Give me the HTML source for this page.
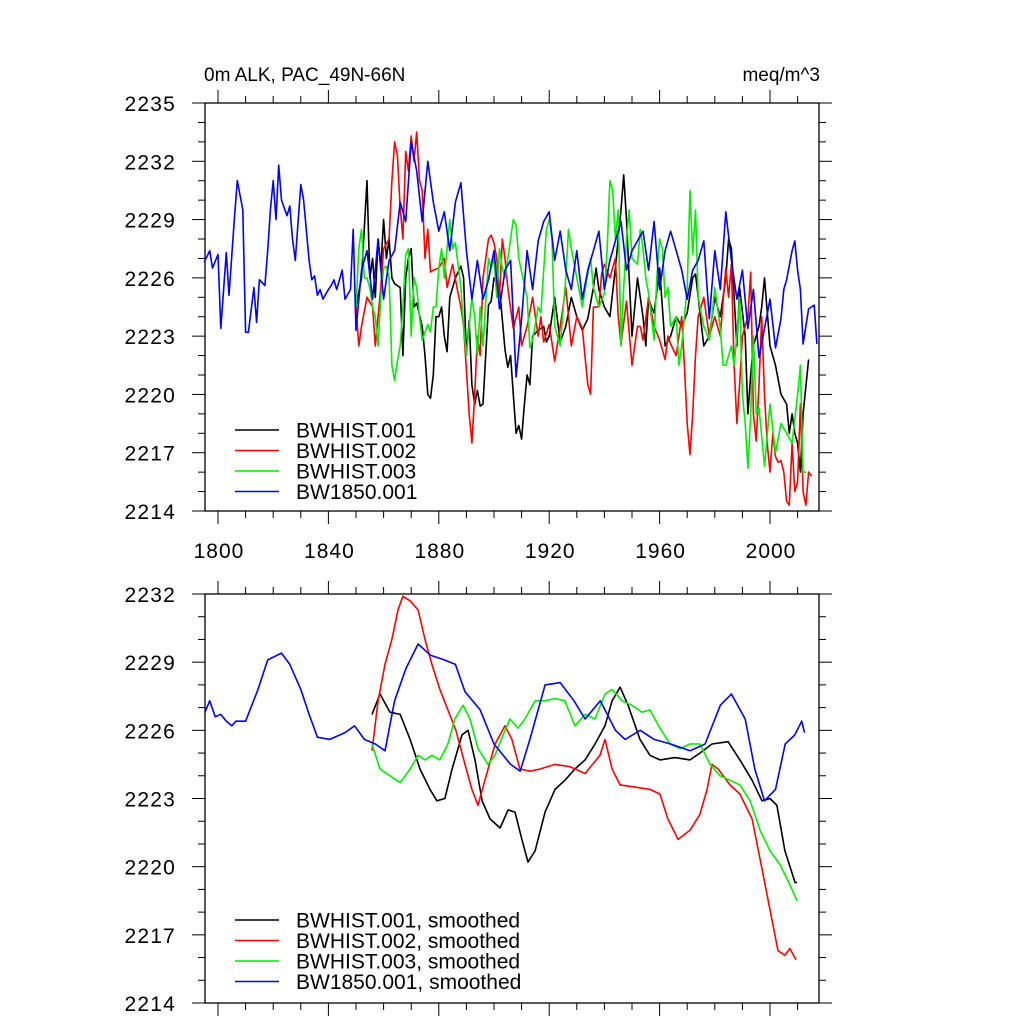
<!DOCTYPE html>
<html><head><meta charset="utf-8"><style>
html,body{margin:0;padding:0;background:#fff}
svg{display:block;font-family:"Liberation Sans",sans-serif}
</style></head><body>
<svg id="chart" width="1024" height="1024" viewBox="0 0 1024 1024" xmlns="http://www.w3.org/2000/svg">
<text x="204" y="81" font-size="19">0m ALK, PAC_49N-66N</text>
<text x="820" y="81" font-size="19" text-anchor="end">meq/m^3</text>
<g id="top"></g>
<g id="bot"></g>
</svg>
<script>
// ---- data ----
const b1Years=[1850,1852,1854,1855,1856,1857,1858,1859,1860,1861,1862,1863,1864,1866,1867,1868,1869,1870,1871,1872,1874,1875,1876,1877,1878,1879,1880,1881,1882,1883,1884,1886,1888,1889,1890,1891,1892,1893,1894,1895,1896,1897,1898,1899,1900,1902,1904,1905,1906,1907,1908,1909,1910,1911,1912,1913,1914,1916,1918,1919,1920,1922,1924,1926,1928,1930,1932,1934,1936,1937,1938,1940,1942,1944,1945,1946,1947,1948,1949,1950,1952,1954,1955,1956,1957,1958,1960,1962,1964,1966,1968,1970,1972,1973,1974,1976,1978,1980,1982,1984,1985,1986,1988,1989,1991,1992,1993,1994,1996,1997,1998,2000,2002,2004,2006,2007,2008,2009,2010,2011,2012,2014];
const b1Vals=[2224.5,2226,2231,2226,2227,2225,2228,2226.5,2229,2227,2228,2226,2225.7,2225.5,2222,2226,2227,2227.5,2224.5,2224.7,2223.5,2222,2220,2219.8,2221,2224,2224,2224.5,2223,2222.2,2225,2226,2226.6,2226,2222,2223.8,2220.5,2219.5,2220.2,2219.4,2219.5,2222,2224.6,2224.8,2226,2225.5,2222.3,2221.4,2222,2220,2218,2218.4,2217.7,2219.5,2221,2220.5,2223,2223.3,2223.5,2222.7,2223,2225,2222.7,2223.5,2225,2224,2223.3,2223.9,2225.5,2226.5,2225.4,2224.5,2224,2226.5,2228,2229.5,2231.3,2229,2226,2223,2226,2224,2222.5,2225,2224.5,2224.2,2226.5,2222.5,2223,2224,2223.5,2224.2,2226,2226.2,2225,2222.5,2223,2225,2224,2226,2228,2227.5,2222.5,2225.5,2223,2219,2221,2222.5,2223.5,2224.5,2226,2222.5,2221.5,2220,2219.5,2218,2219,2218,2217.5,2216,2219,2221.8];
const r1Years=[1850,1851,1852,1854,1856,1857,1859,1860,1862,1863,1864,1865,1866,1867,1868,1869,1870,1871,1872,1873,1874,1875,1876,1877,1878,1880,1882,1883,1885,1887,1888,1889,1891,1892,1893,1894,1895,1896,1898,1899,1900,1901,1902,1903,1904,1905,1907,1909,1910,1912,1914,1916,1917,1918,1920,1922,1924,1926,1928,1930,1932,1934,1935,1936,1938,1939,1940,1942,1944,1945,1946,1948,1950,1952,1953,1954,1956,1958,1960,1962,1963,1964,1966,1968,1969,1970,1971,1972,1973,1974,1976,1977,1978,1980,1982,1984,1985,1986,1987,1988,1989,1990,1992,1993,1994,1995,1996,1997,1998,1999,2000,2001,2002,2003,2004,2005,2006,2007,2008,2009,2010,2011,2012,2013,2014,2015];
const r1Vals=[2224.5,2222.5,2223.5,2225,2224.5,2222.5,2225.5,2227.5,2228,2231,2233,2232.3,2229.6,2228,2232.5,2231.5,2233.3,2232,2233.5,2231,2230.5,2227,2228.5,2226.3,2226.4,2226.5,2227,2225.5,2226.7,2225.2,2224.5,2223.5,2219,2217.5,2220,2223,2222,2226,2228,2228.2,2227.8,2227,2225,2228,2227,2225.5,2223.4,2224.5,2222.5,2223.5,2225,2223,2224,2222.7,2223.6,2221.7,2223.5,2225.5,2222.5,2224,2223.4,2220.5,2220,2224.5,2224.5,2226.2,2226.7,2226,2227,2224,2222.6,2224.8,2221.5,2223.5,2223.5,2222.8,2225,2223.5,2222.8,2221.8,2223,2222.6,2222,2224,2221.5,2218.5,2216.9,2219,2222,2224,2225,2224,2223,2224,2223,2226.5,2225,2226.7,2221.5,2218.5,2220.5,2223,2224,2226.3,2219,2217.6,2220.5,2224,2220,2217.5,2216,2218,2216.8,2216.5,2216.6,2216,2214.5,2214.3,2217.5,2215,2215.5,2219.5,2215,2214.3,2216,2215.8];
const g1Years=[1850,1851,1852,1853,1854,1855,1856,1857,1858,1859,1860,1861,1862,1863,1864,1865,1866,1867,1868,1869,1870,1871,1872,1873,1874,1876,1877,1878,1879,1880,1881,1882,1884,1885,1886,1888,1889,1890,1892,1893,1894,1895,1896,1898,1899,1900,1901,1902,1903,1904,1906,1907,1908,1909,1910,1912,1913,1914,1916,1917,1918,1919,1920,1921,1922,1924,1926,1927,1928,1930,1932,1934,1935,1936,1938,1940,1941,1942,1943,1944,1945,1946,1947,1948,1949,1950,1952,1953,1954,1955,1956,1957,1958,1959,1960,1961,1962,1963,1964,1966,1967,1968,1969,1970,1971,1972,1973,1974,1976,1978,1979,1980,1982,1983,1984,1986,1987,1988,1989,1990,1991,1992,1993,1994,1995,1996,1998,2000,2002,2004,2006,2008,2010,2011,2012,2013];
const g1Vals=[2224.5,2227.5,2228.5,2226,2226,2225.5,2224.5,2224,2222.5,2225,2226.5,2226.6,2226,2221.5,2220.7,2221.7,2222.5,2224.5,2227.2,2227.5,2223,2226,2225.5,2224,2222.8,2223.6,2223.2,2224.5,2224.5,2226.5,2227.5,2226,2229,2227.5,2227.8,2225.5,2223.5,2222,2225,2224,2222,2224.5,2222.5,2227,2226.5,2227,2225,2227.5,2226.5,2226,2228,2229,2228.7,2227,2226.3,2225,2222.4,2222.8,2224.5,2224.2,2226.4,2228.5,2229,2228,2223.5,2222.5,2226,2228.5,2227.5,2226,2224.5,2226.2,2227,2225.5,2224.5,2225.2,2227.5,2231,2230.5,2228,2229.5,2222.5,2225.5,2228,2229.5,2227,2226.7,2228.5,2227.5,2226,2225.2,2224,2222.8,2226,2228,2227.5,2225,2225.5,2223.5,2224,2221.5,2222.5,2224,2225.5,2230.5,2227.2,2229.5,2225,2223.5,2222.8,2224,2225.5,2223.4,2221.5,2221.5,2222.5,2221.5,2223,2225,2220,2218.5,2216.2,2219,2223,2219,2219.3,2216.3,2219.5,2217,2218.5,2218,2217.5,2220,2221.5,2216,2216];
const u1Years=[1795,1797,1798,1800,1801,1803,1804,1806,1807,1809,1810,1811,1813,1814,1815,1817,1818,1819,1820,1821,1822,1823,1825,1826,1827,1828,1830,1831,1833,1834,1835,1836,1837,1838,1840,1841,1842,1843,1845,1846,1848,1849,1850,1852,1854,1856,1858,1860,1862,1864,1866,1868,1870,1872,1874,1876,1878,1880,1882,1884,1886,1888,1890,1892,1894,1896,1898,1900,1902,1904,1906,1908,1910,1912,1914,1916,1918,1920,1922,1924,1926,1928,1930,1932,1934,1936,1938,1940,1942,1944,1946,1948,1950,1952,1954,1956,1958,1960,1962,1964,1966,1968,1970,1972,1974,1976,1978,1980,1982,1984,1986,1988,1990,1992,1994,1996,1998,2000,2002,2004,2005,2006,2008,2009,2010,2011,2012,2014,2016,2017];
const u1Vals=[2226.8,2227.4,2226.5,2227.2,2223.4,2227.3,2225.1,2229.2,2231,2229.5,2223.2,2223.2,2225.5,2223.7,2225.9,2225.6,2227.4,2229.5,2231,2229,2231.8,2230,2229.2,2229.7,2228,2226.9,2230.8,2230,2226.9,2225.9,2226.1,2225.1,2225.4,2224.9,2225.4,2225.6,2225.9,2225.4,2226.4,2224.9,2225.4,2228.5,2223.3,2226.4,2227.4,2224.9,2228,2224.9,2226.9,2227.4,2229.9,2228.9,2233,2231.5,2228.9,2232,2229.9,2228.4,2229.4,2227.4,2229.9,2230.9,2227.4,2224.9,2226.9,2224.9,2225.9,2227.4,2224.4,2226.4,2226.9,2220.9,2223.9,2227.4,2225.4,2227.9,2228.9,2229.4,2226.9,2228.4,2226.4,2225.4,2227.4,2224.9,2226.4,2227.4,2228.4,2225.4,2226.9,2227.9,2228.9,2226.4,2227.4,2227.9,2228.4,2226.4,2228.9,2225.4,2227.4,2228.4,2227.4,2226.4,2224.9,2226.4,2226.9,2227.9,2223.9,2227.4,2225.4,2229.4,2226.9,2224.9,2226.4,2223.4,2225.4,2221.9,2223.4,2224.9,2222.4,2223.9,2225.4,2225.9,2227.4,2227.9,2226.4,2225.4,2222.6,2224.4,2224.6,2222.6];

const b2Years=[1855.8,1858.7,1862.3,1866,1869.6,1873.2,1876.8,1879.3,1882.2,1884.8,1888.4,1890.6,1893.1,1895.7,1898.6,1902.2,1905.1,1907.6,1910.1,1912.3,1914.9,1918.5,1922.1,1925.7,1929.3,1933,1936.6,1940.2,1942.8,1945.7,1948.6,1952.9,1956.5,1960.1,1965.6,1971,1974.6,1979,1984.8,1989.1,1993.5,1997.1,2000,2002.5,2005.4,2009.1,2009.8];
const b2Vals=[2226.7,2227.6,2226.8,2226.7,2225.6,2224.3,2223.4,2222.9,2223.0,2224.3,2225.8,2226.0,2224.7,2222.9,2222.1,2221.7,2222.5,2222.4,2221.2,2220.2,2220.7,2222.4,2223.4,2223.8,2224.3,2224.7,2225.4,2226.2,2227.3,2227.9,2227.1,2225.6,2224.9,2224.7,2224.8,2224.7,2225.0,2225.4,2225.5,2224.7,2223.8,2222.9,2223.0,2222.7,2220.7,2219.3,2219.3];
const r2Years=[1855.8,1858,1860.5,1863,1865.2,1867,1869.6,1872.5,1875,1877.5,1880.4,1883.3,1886.2,1889.5,1892,1894.2,1896.7,1900.4,1904,1906.5,1909.4,1913,1916.7,1922.1,1927.5,1933,1938.4,1940.2,1942.8,1945.7,1951.1,1956.5,1960.1,1963,1966.7,1971,1974.6,1977.2,1979,1981.2,1985.5,1989.1,1993.5,1997.1,2000,2002.9,2005.4,2007.2,2009.4];
const r2Vals=[2225.1,2227.3,2228.9,2230.0,2231.3,2231.9,2231.7,2231.3,2230.0,2228.9,2227.8,2226.9,2226.0,2224.5,2223.4,2222.7,2223.8,2225.4,2226.2,2225.6,2224.3,2224.2,2224.3,2224.5,2224.4,2224.1,2224.9,2225.6,2224.3,2223.6,2223.5,2223.4,2223.2,2222.1,2221.2,2221.6,2222.3,2223.4,2224.5,2224.3,2223.6,2223.2,2222.1,2219.9,2218.1,2216.3,2216.1,2216.4,2215.9];
const g2Years=[1855.8,1858.7,1862.3,1866,1869.6,1872.5,1875,1877.5,1880.4,1883.3,1885.8,1888.8,1891.3,1894.2,1897.8,1900.4,1903.3,1905.8,1908.7,1911.2,1914.9,1918.5,1922.1,1925.7,1929.3,1933,1936.6,1940.2,1942.8,1946.4,1950,1953.6,1956.5,1960.1,1963.8,1967.4,1971,1974.6,1978.3,1981.9,1985.5,1989.1,1992.8,1996.4,2000,2003.6,2007.2,2009.8];
const g2Vals=[2225.4,2224.3,2224.0,2223.7,2224.3,2224.9,2224.7,2224.9,2224.7,2225.4,2226.5,2227.1,2226.5,2225.2,2224.5,2224.9,2225.8,2226.5,2226.1,2226.5,2227.3,2227.3,2227.4,2227.3,2226.2,2226.7,2226.5,2227.6,2227.8,2227.3,2227.1,2226.8,2226.9,2226.1,2225.4,2225.2,2225.4,2225.4,2224.5,2224.0,2223.8,2223.6,2222.9,2221.6,2220.7,2220.1,2219.2,2218.5];
const u2Years=[1795.3,1797,1799,1801,1803,1805,1806.5,1810,1814.5,1818,1823,1826,1830,1833,1836,1840.5,1846,1849.5,1853,1857,1860.5,1864,1868,1872.5,1877,1882,1886,1889.5,1895,1900,1906,1909.5,1913,1918.5,1924,1929,1933,1938.5,1944,1947.5,1953,1958,1964,1971,1976.5,1982,1986,1991,1994.5,1998,2002,2005.5,2009,2011.5,2012.5];
const u2Vals=[2226.8,2227.3,2226.6,2226.7,2226.4,2226.2,2226.4,2226.4,2227.8,2229.1,2229.4,2228.9,2227.8,2226.7,2225.7,2225.6,2225.9,2226.2,2225.6,2225.4,2225.1,2227.3,2228.7,2229.8,2229.3,2229.1,2228.9,2227.7,2226.9,2225.4,2224.5,2224.2,2225.6,2228.0,2228.1,2227.3,2226.5,2227.3,2226.0,2225.6,2226.0,2225.6,2225.4,2225.1,2225.4,2227.1,2227.6,2226.5,2224.3,2222.9,2223.4,2225.4,2225.8,2226.4,2225.9];

const xTickLabels=[1800,1840,1880,1920,1960,2000];
const topYTicks=[2214,2217,2220,2223,2226,2229,2232,2235];
const botYTicks=[2214,2217,2220,2223,2226,2229,2232];
const topLegend=["BWHIST.001","BWHIST.002","BWHIST.003","BW1850.001"];
const botLegend=["BWHIST.001, smoothed","BWHIST.002, smoothed","BWHIST.003, smoothed","BW1850.001, smoothed"];
const colors=["#000000","#ff0000","#00ee00","#0000ff"];

// ---- drawing ----
const NS="http://www.w3.org/2000/svg";
const X0=205,X1=819,YR0=1795.29,YR1=2017.75;
function xs(y){return X0+(y-YR0)/(YR1-YR0)*(X1-X0);}
function mk(tag,attrs,parent){const e=document.createElementNS(NS,tag);for(const k in attrs)e.setAttribute(k,attrs[k]);parent.appendChild(e);return e;}

function panel(g,top,bottom,vmin,vmax,yTicks,series,legend,legY,showXLabels){
  const ys=v=>bottom-(v-vmin)/(vmax-vmin)*(bottom-top);
  const frame=mk('rect',{x:X0,y:top,width:X1-X0,height:bottom-top,fill:'none',stroke:'#000','stroke-width':1.3},g);
  
  
  for(let v=vmin;v<=vmax;v++){
    const major=(v-vmin)%3===0;const L=major?13:7;const yy=ys(v);
    mk('line',{x1:X0-L,x2:X0,y1:yy,y2:yy,stroke:'#000','stroke-width':1},g);
    mk('line',{x1:X1,x2:X1+L,y1:yy,y2:yy,stroke:'#000','stroke-width':1},g);
  }
  yTicks.forEach(v=>{
    const t=mk('text',{x:176,y:ys(v)+8,'font-size':21,'letter-spacing':'1.2','text-anchor':'end'},g);
    t.textContent=v;
    
    
  });
  for(let yr=1800;yr<=2010;yr+=10){
    const major=(yr-1800)%40===0;const L=major?13:7;const xx=xs(yr);
    mk('line',{x1:xx,x2:xx,y1:top-L,y2:top,stroke:'#000','stroke-width':1},g);
    mk('line',{x1:xx,x2:xx,y1:bottom,y2:bottom+L,stroke:'#000','stroke-width':1},g);
  }
  if(showXLabels){
    xTickLabels.forEach(yr=>{
      const t=mk('text',{x:xs(yr)+1,y:bottom+47,'font-size':21,'letter-spacing':'1','text-anchor':'middle'},g);
      t.textContent=yr;
      
      
    });
  }
  series.forEach((s,i)=>{
    const d=s[0].map((yr,k)=>(k?'L':'M')+xs(yr).toFixed(1)+','+ys(s[1][k]).toFixed(1)).join('');
    const p=mk('path',{d:d,fill:'none',stroke:colors[i],'stroke-width':1.6,'stroke-linejoin':'round'},g);
    
    
  });
  legend.forEach((name,i)=>{
    const yy=legY+i*20.5;
    const l=mk('line',{x1:235,x2:279,y1:yy,y2:yy,stroke:colors[i],'stroke-width':1.6},g);
    
    
    const t=mk('text',{x:296,y:yy+7.5,'font-size':21},g);
    t.textContent=name;
    
    
  });
}
panel(document.getElementById('top'),103,511,2214,2235,topYTicks,
  [[b1Years,b1Vals],[r1Years,r1Vals],[g1Years,g1Vals],[u1Years,u1Vals]],topLegend,430,true);
panel(document.getElementById('bot'),594,1003,2214,2232,botYTicks,
  [[b2Years,b2Vals],[r2Years,r2Vals],[g2Years,g2Vals],[u2Years,u2Vals]],botLegend,920,false);
</script>
</body></html>
